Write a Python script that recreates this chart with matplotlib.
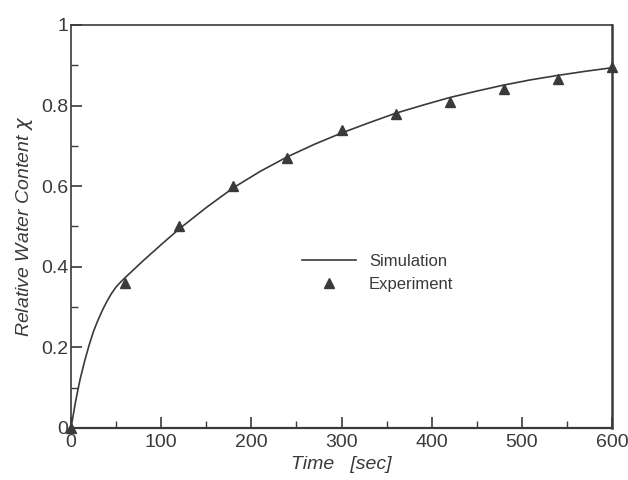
import numpy as np
import matplotlib.pyplot as plt
from matplotlib.ticker import MultipleLocator

# données
t_exp = [0, 60, 120, 180, 240, 300, 360, 420, 480, 540, 600]
chi_exp = [0.0, 0.36, 0.50, 0.60, 0.67, 0.74, 0.78, 0.81, 0.84, 0.865, 0.895]

t_sim = [0, 5, 10, 15, 20, 25, 30, 35, 40, 45, 50, 55, 60, 70, 80, 90, 100,
         120, 150, 180, 210, 240, 270, 300, 330, 360, 390, 420, 450, 480,
         510, 540, 570, 600]
chi_sim = [0.0, 0.065, 0.12, 0.165, 0.205, 0.24, 0.268, 0.293, 0.315, 0.334,
           0.35, 0.362, 0.373, 0.394, 0.415, 0.435, 0.455, 0.494, 0.547, 0.596,
           0.637, 0.673, 0.704, 0.732, 0.757, 0.781, 0.801, 0.82, 0.836, 0.851,
           0.864, 0.875, 0.885, 0.894]

couleur = '#3a3a3a'
plt.rcParams['font.family'] = ['Liberation Sans', 'DejaVu Sans']

fig = plt.figure(figsize=(6.28, 4.8), dpi=100)
ax = fig.add_axes([71 / 628, 52 / 480, 541 / 628, 403 / 480])

ax.plot(t_sim, chi_sim, color=couleur, lw=1.2, label='Simulation')
ax.plot(t_exp, chi_exp, '^', color=couleur, ms=7, label='Experiment', clip_on=False)

ax.set_xlim(0, 600)
ax.set_ylim(0, 1)
ax.xaxis.set_major_locator(MultipleLocator(100))
ax.xaxis.set_minor_locator(MultipleLocator(50))
ax.yaxis.set_major_locator(MultipleLocator(0.2))
ax.yaxis.set_minor_locator(MultipleLocator(0.1))
ax.set_yticks([0, 0.2, 0.4, 0.6, 0.8, 1.0])
ax.set_yticklabels(['0', '0.2', '0.4', '0.6', '0.8', '1'])

ax.tick_params(which='both', direction='in', color=couleur, labelcolor=couleur,
               labelsize=14)
ax.tick_params(which='major', length=8, width=1.2)
ax.tick_params(which='minor', length=5, width=1.0)
ax.tick_params(axis='x', pad=4)
ax.tick_params(axis='y', pad=2)

for cote in ax.spines.values():
    cote.set_color(couleur)
    cote.set_linewidth(1.2)
ax.spines['right'].set_linewidth(1.8)
ax.spines['bottom'].set_linewidth(1.6)

ax.set_xlabel('Time   [sec]', fontsize=14, style='italic', color=couleur, labelpad=4)
ax.set_ylabel('Relative Water Content $\\chi$', fontsize=14, style='italic',
              color=couleur, labelpad=4)

leg = ax.legend(loc='upper left', bbox_to_anchor=(0.40, 0.47), frameon=False,
                fontsize=12, handlelength=3.2, handletextpad=0.8, labelspacing=0.5)
for txt in leg.get_texts():
    txt.set_color(couleur)

fig.savefig('out.png', dpi=100)
